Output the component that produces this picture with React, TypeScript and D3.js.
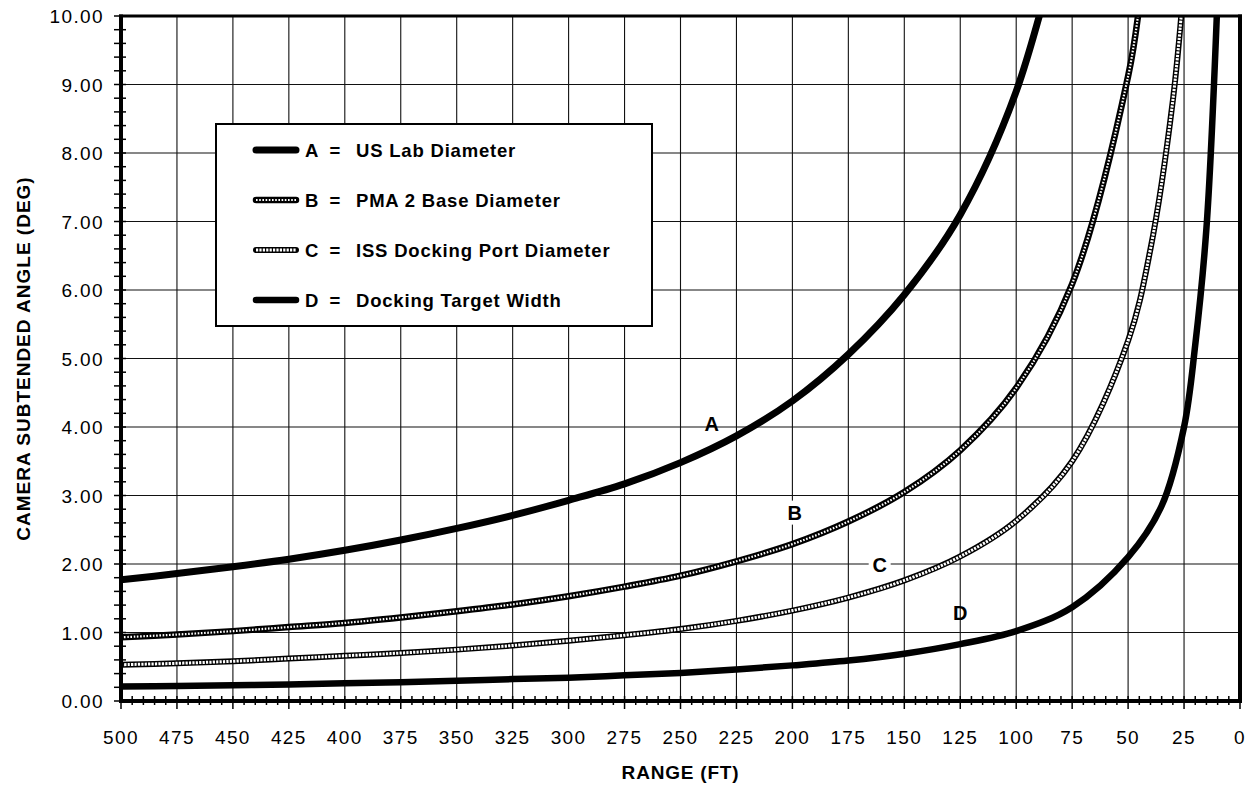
import React from 'react';
import * as d3 from 'd3';

const W = 1254;
const H = 788;

// x categories (range, ft) and tick labels
const xTickValues = [500, 475, 450, 425, 400, 375, 350, 325, 300, 275, 250, 225, 200, 175, 150, 125, 100, 75, 50, 25, 0];
const yTickValues = [0, 1, 2, 3, 4, 5, 6, 7, 8, 9, 10];

// Series A: US Lab Diameter
const rangesA = [500, 475, 450, 425, 400, 375, 350, 325, 300, 275, 250, 225, 200, 175, 150, 125, 100, 75];
const valuesA = [1.77, 1.86, 1.96, 2.07, 2.2, 2.35, 2.52, 2.71, 2.93, 3.17, 3.48, 3.87, 4.38, 5.06, 5.93, 7.1, 8.9, 11.85];

// Series B: PMA 2 Base Diameter
const rangesB = [500, 475, 450, 425, 400, 375, 350, 325, 300, 275, 250, 225, 200, 175, 150, 125, 100, 75, 50, 45];
const valuesB = [0.93, 0.97, 1.02, 1.08, 1.14, 1.22, 1.31, 1.41, 1.53, 1.67, 1.83, 2.04, 2.29, 2.62, 3.05, 3.66, 4.57, 6.09, 9.12, 10.15];

// Series C: ISS Docking Port Diameter
const rangesC = [500, 475, 450, 425, 400, 375, 350, 325, 300, 275, 250, 225, 200, 175, 150, 125, 100, 75, 50, 40, 30, 25];
const valuesC = [0.53, 0.55, 0.58, 0.62, 0.66, 0.7, 0.75, 0.81, 0.88, 0.96, 1.05, 1.17, 1.32, 1.51, 1.76, 2.11, 2.63, 3.5, 5.26, 6.6, 8.77, 10.5];

// Series D: Docking Target Width
const rangesD = [500, 475, 450, 425, 400, 375, 350, 325, 300, 275, 250, 225, 200, 175, 150, 125, 100, 75, 50, 35, 25, 20, 15, 10];
const valuesD = [0.21, 0.22, 0.23, 0.24, 0.26, 0.275, 0.295, 0.32, 0.34, 0.375, 0.41, 0.46, 0.52, 0.59, 0.69, 0.83, 1.02, 1.37, 2.1, 2.85, 4.0, 5.2, 6.9, 10.3];

const legendLetters = ['A', 'B', 'C', 'D'];
const legendNames = ['US Lab Diameter', 'PMA 2 Base Diameter', 'ISS Docking Port Diameter', 'Docking Target Width'];

// curve label anchor points (range, value)
const curveLabelRanges = [236, 199, 161, 125];
const curveLabelValues = [4.05, 2.75, 1.99, 1.28];

const FONT = "'Liberation Sans', Arial, Helvetica, sans-serif";

type Style = { kind: 'solid' | 'chain'; width: number; innerWidth?: number; dash?: string };
const styles: Style[] = [
  { kind: 'solid', width: 7 },
  { kind: 'chain', width: 6.5, innerWidth: 2.2, dash: '1.6 1.6' },
  { kind: 'chain', width: 6, innerWidth: 3, dash: '2.2 1.2' },
  { kind: 'solid', width: 6.5 },
];

function StyledPath({ d, s }: { d: string; s: Style }) {
  if (s.kind === 'solid') {
    return <path d={d} fill="none" stroke="#000" strokeWidth={s.width} strokeLinejoin="round" strokeLinecap="round" />;
  }
  return (
    <g>
      <path d={d} fill="none" stroke="#000" strokeWidth={s.width} strokeLinejoin="round" strokeLinecap="round" />
      <path d={d} fill="none" stroke="#fff" strokeWidth={s.innerWidth} strokeDasharray={s.dash} strokeLinejoin="round" />
    </g>
  );
}

export default function App() {
  const left = 121, right = 1240, top = 16, bottom = 701;
  const x = d3.scaleLinear().domain([500, 0]).range([left, right]);
  const y = d3.scaleLinear().domain([0, 10]).range([bottom, top]);
  const line = d3
    .line<[number, number]>()
    .x(d => x(d[0]))
    .y(d => y(d[1]))
    .curve(d3.curveCatmullRom.alpha(0.5));

  const series: [number[], number[]][] = [
    [rangesA, valuesA],
    [rangesB, valuesB],
    [rangesC, valuesC],
    [rangesD, valuesD],
  ];

  const xMinor = d3.range(0, 501, 5);
  const yMinor = d3.range(0, 10.001, 0.2);

  return (
    <svg width={W} height={H} style={{ position: 'absolute', left: 0, top: 0, background: '#fff' }} fontFamily={FONT}>
      <defs>
        <clipPath id="plot">
          <rect x={left} y={top} width={right - left} height={bottom - top} />
        </clipPath>
      </defs>
      <rect x={0} y={0} width={W} height={H} fill="#fff" />

      {/* grid */}
      {xTickValues.map(v => (
        <line key={'gx' + v} x1={x(v)} x2={x(v)} y1={top} y2={bottom} stroke="#111" strokeWidth={1.1} />
      ))}
      {yTickValues.map(v => (
        <line key={'gy' + v} x1={left} x2={right} y1={y(v)} y2={y(v)} stroke="#111" strokeWidth={1.1} />
      ))}

      {/* curves */}
      <g clipPath="url(#plot)">
        {series.map(([r, v], i) => (
          <StyledPath key={i} d={line(r.map((rr, j) => [rr, v[j]] as [number, number])) || ''} s={styles[i]} />
        ))}
      </g>

      {/* frame */}
      <line x1={left} x2={left} y1={top - 1.5} y2={bottom + 2} stroke="#000" strokeWidth={4} />
      <line x1={left - 2} x2={right + 2} y1={bottom} y2={bottom} stroke="#000" strokeWidth={4} />
      <line x1={left - 2} x2={right + 2} y1={top} y2={top} stroke="#000" strokeWidth={3} />
      <line x1={right} x2={right} y1={top - 1.5} y2={bottom + 2} stroke="#000" strokeWidth={4} />

      {/* x minor & major ticks */}
      {xMinor.map(v => (
        <line key={'xm' + v} x1={x(v)} x2={x(v)} y1={bottom - 5} y2={v % 25 === 0 ? bottom + 8 : bottom + 4} stroke="#000" strokeWidth={1.5} />
      ))}
      {/* y minor & major ticks */}
      {yMinor.map(v => (
        <line key={'ym' + v.toFixed(1)} x1={left - 7} x2={left + 5} y1={y(v)} y2={y(v)} stroke="#000" strokeWidth={1.5} />
      ))}

      {/* x tick labels */}
      {xTickValues.map(v => (
        <text key={'xl' + v} x={x(v)} y={744} textAnchor="middle" fontSize={19} letterSpacing={1.4}>
          {v}
        </text>
      ))}
      {/* y tick labels */}
      {yTickValues.map(v => (
        <text key={'yl' + v} x={104} y={y(v) + 7} textAnchor="end" fontSize={19} letterSpacing={1.4}>
          {v.toFixed(2)}
        </text>
      ))}

      {/* axis titles */}
      <text x={(left + right) / 2} y={779} textAnchor="middle" fontSize={19} fontWeight="bold" letterSpacing={0.8}>
        RANGE (FT)
      </text>
      <text transform={`translate(30, ${(top + bottom) / 2}) rotate(-90)`} textAnchor="middle" fontSize={19} fontWeight="bold" letterSpacing={1}>
        CAMERA SUBTENDED ANGLE (DEG)
      </text>

      {/* curve labels */}
      {legendLetters.map((l, i) => {
        const cx = x(curveLabelRanges[i]);
        const cy = y(curveLabelValues[i]);
        return (
          <g key={'cl' + l}>
            {(i === 1 || i === 2) && <rect x={cx - 11} y={cy - 12} width={22} height={24} fill="#fff" />}
            <text x={cx} y={cy + 7} textAnchor="middle" fontSize={20} fontWeight="bold">
              {l}
            </text>
          </g>
        );
      })}

      {/* legend */}
      <rect x={216} y={124} width={436} height={202} fill="#fff" stroke="#000" strokeWidth={2} />
      {legendLetters.map((l, i) => {
        const ly = 150 + i * 50;
        return (
          <g key={'lg' + l}>
            <StyledPath d={`M256,${ly}L296,${ly}`} s={styles[i]} />
            <text x={305} y={ly + 6.5} fontSize={18.5} fontWeight="bold">
              {l}
            </text>
            <text x={335} y={ly + 6.5} fontSize={18.5} fontWeight="bold" textAnchor="middle">
              =
            </text>
            <text x={356} y={ly + 6.5} fontSize={18.5} fontWeight="bold" letterSpacing={0.8}>
              {legendNames[i]}
            </text>
          </g>
        );
      })}
    </svg>
  );
}
